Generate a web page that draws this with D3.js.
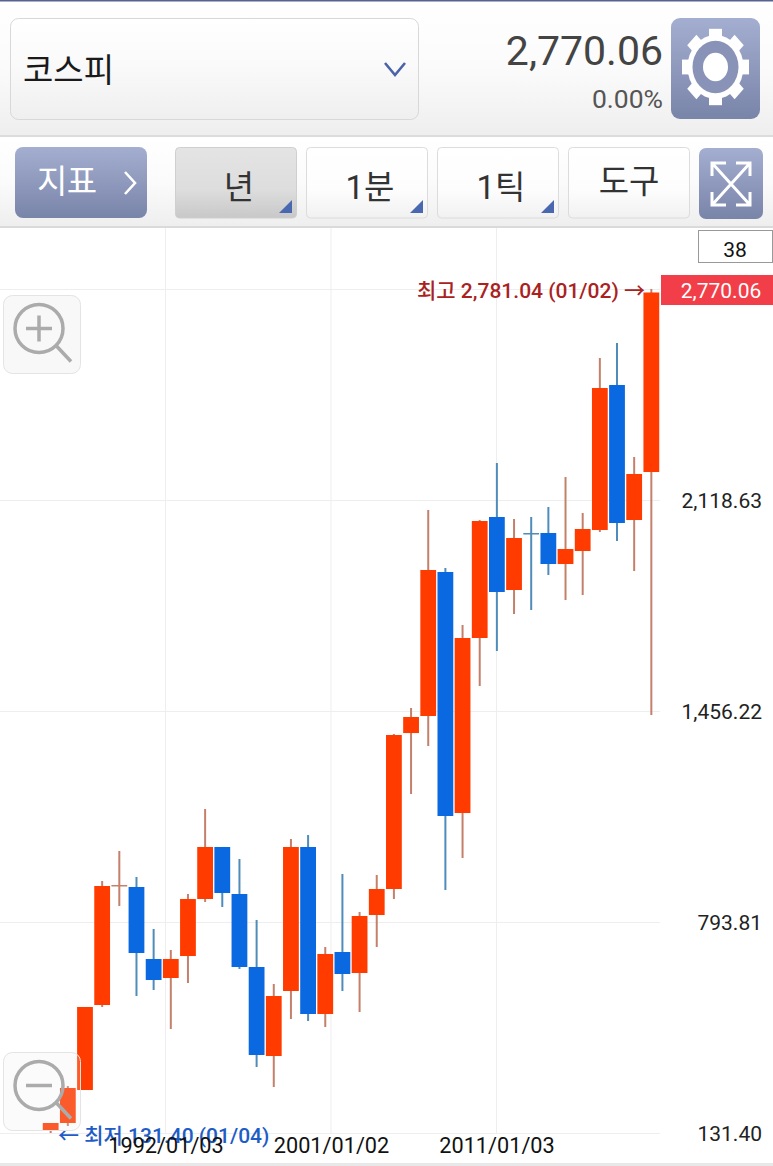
<!DOCTYPE html>
<html lang="ko"><head><meta charset="utf-8">
<script src="https://cdn.jsdelivr.net/npm/d3@7/dist/d3.min.js"></script>
<style>
html,body{margin:0;padding:0;background:#fff;overflow:hidden}
svg{display:block}
text{font-family:Roboto,"Noto Sans CJK KR",sans-serif}
</style></head><body>
<svg id="c" width="773" height="1166"></svg>
<script>
const years=[1985,1986,1987,1988,1989,1990,1991,1992,1993,1994,1995,1996,1997,1998,1999,2000,2001,2002,2003,2004,2005,2006,2007,2008,2009,2010,2011,2012,2013,2014,2015,2016,2017,2018,2019,2020];
const opens =[137.7,162.8,266.4,533.2,910,903.7,677.7,618,687,866,1029.3,881.7,652.5,373.1,577.2,1029.3,505,699.6,633.7,815.8,897.4,1387,1440.5,1892.6,1136,1685.4,2065.3,1836.1,2015,2015,1917.7,1958.5,2024.5,2479.7,2055.8,2206.5];
const highs =[162.8,279,527,922.5,1016.7,935.1,771.8,705.9,881.7,1148.6,1029.3,991.6,800.1,599.2,1054.4,1066.9,715.3,944.5,825.2,941.4,1384,1465.6,2087.3,1905.2,1726.2,2055.8,2234.8,2059,2065.3,2096.7,2190.9,2077.8,2564.4,2611.5,2253.6,2781.04];
const lows  =[131.4,153.4,266.4,527,844,561.5,580.3,457.9,602.3,856.6,840.9,646.3,338.6,275.8,489.3,483,464.2,577.2,511.3,715.3,866,1195.6,1346.3,894.3,994.7,1534.7,1644.6,1760.7,1773.3,1883.2,1804.7,1820.4,2018.2,1990,1895.7,1443.7];
const closes=[162.8,272.7,527,906.8,910,696.5,611.7,677.7,866,1029.3,884.9,652.5,376.3,561.5,1029.3,505,693.4,630.6,812.7,897.4,1380.9,1437.4,1898.9,1126.6,1685.4,2052.7,1829.8,1999.3,2015,1917.7,1964.8,2027.6,2470.2,2046.4,2200.3,2770.06];
const downYears=[1990,1991,1995,1996,1997,2000,2002,2008,2011,2013,2014,2018];
const yTicks=[131.40,793.81,1456.22,2118.63,2781.04];
const xTickLabels=["1992/01/03","2001/01/02","2011/01/03"];
const lastPrice=2770.06, changePct="0.00%", barCount="38";
const hiLabel="최고 2,781.04 (01/02) →", loLabel="← 최저 131.40 (01/04)";
const tabs=["년","1분","1틱","도구"];

const svg=d3.select("#c");
const defs=svg.append("defs");
function grad(id,stops){const g=defs.append("linearGradient").attr("id",id).attr("x1",0).attr("x2",0).attr("y1",0).attr("y2",1);
  stops.forEach(([o,c])=>g.append("stop").attr("offset",o).attr("stop-color",c));}
grad("hdr",[[0,"#ffffff"],[.5,"#fbfbfb"],[1,"#eeeeee"]]);
grad("box",[[0,"#ffffff"],[.45,"#fafafa"],[1,"#efefef"]]);
grad("slate",[[0,"#a3aed0"],[1,"#7984a9"]]);
grad("sel",[[0,"#e4e4e4"],[.6,"#dddddd"],[1,"#c8c8c8"]]);
grad("tab",[[0,"#ffffff"],[.6,"#fdfdfd"],[1,"#f1f1f1"]]);
const font='Roboto,"Noto Sans CJK KR",sans-serif';

// header
svg.append("rect").attr("width",773).attr("height",136).attr("fill","url(#hdr)");
svg.append("rect").attr("width",773).attr("height",1.5).attr("fill","#56638f");
svg.append("rect").attr("y",135).attr("width",773).attr("height",2).attr("fill","#dcdcdc");
svg.append("rect").attr("y",137).attr("width",773).attr("height",90).attr("fill","url(#hdr)");
svg.append("rect").attr("y",226).attr("width",773).attr("height",2).attr("fill","#dadada");
svg.append("rect").attr("y",1163).attr("width",773).attr("height",3).attr("fill","#e8e8e8");

svg.append("rect").attr("x",10.5).attr("y",18.5).attr("width",408).attr("height",101).attr("rx",8).attr("fill","url(#box)").attr("stroke","#d8d8d8");
svg.append("text").attr("x",23).attr("y",82).attr("font-size",33).attr("textLength",91).attr("lengthAdjust","spacingAndGlyphs").attr("fill","#1a1a1a").attr("font-family",'"Noto Sans CJK KR"').text("코스피");
svg.append("path").attr("d","M385 63L395 75L405 63").attr("fill","none").attr("stroke","#4a62a8").attr("stroke-width",2.6);
svg.append("text").attr("x",663).attr("y",65).attr("text-anchor","end").attr("font-size",41).attr("fill","#444").text(d3.format(",.2f")(lastPrice));
svg.append("text").attr("x",663).attr("y",108).attr("text-anchor","end").attr("font-size",26.5).attr("fill","#555").text(changePct);

// gear
svg.append("rect").attr("x",671).attr("y",18).attr("width",89).attr("height",101).attr("rx",9).attr("fill","url(#slate)");
const gear=svg.append("g").attr("transform","translate(715.5,67) scale(1,1.14)");
d3.range(8).forEach(i=>gear.append("rect").attr("x",-6.5).attr("y",-33.5).attr("width",13).attr("height",12).attr("fill","#fff").attr("transform",`rotate(${i*45})`));
gear.append("circle").attr("r",28).attr("fill","#fff");
gear.append("circle").attr("r",23).attr("fill","#8993b7");
gear.append("circle").attr("r",12.5).attr("fill","#fff");

// second row
svg.append("rect").attr("x",15).attr("y",147).attr("width",132).attr("height",71).attr("rx",8).attr("fill","url(#slate)");
svg.append("text").attr("x",37).attr("y",193).attr("font-size",33).attr("textLength",60).attr("fill","#fff").attr("font-family",'"Noto Sans CJK KR"').text("지표");
svg.append("path").attr("d","M125 172L135 183L125 194").attr("fill","none").attr("stroke","#fff").attr("stroke-width",2.6);
const tabX=d3.scalePoint().domain(tabs).range([175,568]);
tabs.forEach((t,i)=>{
  const x=tabX(t);
  svg.append("rect").attr("x",x+.5).attr("y",147.5).attr("width",121).attr("height",70.5).attr("rx",4)
    .attr("fill",i==0?"url(#sel)":"url(#tab)").attr("stroke",i==0?"#cfcfcf":"#dcdcdc");
  svg.append("text").attr("x",x+(i==3?61:64)).attr("y",i==3?193:199).attr("text-anchor","middle").attr("font-size",33)
    .attr("fill","#333").attr("font-family",'"Noto Sans CJK KR"').text(t);
  if(i<3) svg.append("path").attr("d",`M${x+117} ${200}L${x+117} ${213}L${x+104} ${213}Z`).attr("fill","#4a68b0");
});
svg.append("rect").attr("x",699).attr("y",148).attr("width",64).attr("height",71).attr("rx",7).attr("fill","url(#slate)");
svg.append("path").attr("d","M712 163L750 205M750 163L712 205M712 176V163H726M736 163H750V176M712 192V205H726M736 205H750V192")
  .attr("fill","none").attr("stroke","#fff").attr("stroke-width",3);

// scales
const x=d3.scaleBand().domain(years).range([41.4,660.6]).padding(0.08);
const y=d3.scaleLinear().domain([131.40,2781.04]).range([1133,289]);
const xTick=d3.scalePoint().domain(xTickLabels).range([165.5,496.5]);

// grid
svg.append("g").selectAll("line").data(yTicks).join("line").attr("x1",0).attr("x2",660)
  .attr("y1",d=>Math.round(y(d))+.5).attr("y2",d=>Math.round(y(d))+.5).attr("stroke","#eeeeee");
svg.append("g").selectAll("line").data(xTickLabels).join("line").attr("x1",d=>xTick(d)).attr("x2",d=>xTick(d))
  .attr("y1",228).attr("y2",1133).attr("stroke","#eeeeee");

// candles
const rows=years.map((yr,i)=>({yr,o:opens[i],h:highs[i],l:lows[i],c:closes[i],down:downYears.includes(yr)}));
const cx=d=>x(d.yr)+x.bandwidth()/2;
svg.append("g").selectAll("line").data(rows).join("line").attr("x1",cx).attr("x2",cx)
  .attr("y1",d=>y(d.h)).attr("y2",d=>y(d.l)).attr("stroke",d=>d.down?"#4f8cba":"#c4806a").attr("stroke-width",2);
svg.append("g").selectAll("rect").data(rows).join("rect")
  .attr("x",d=>x(d.yr)).attr("width",x.bandwidth())
  .attr("y",d=>y(Math.max(d.o,d.c))).attr("height",d=>Math.max(Math.abs(y(d.o)-y(d.c)),d.o==d.c?1.5:0))
  .attr("fill",d=>d.down?"#0a68e0":"#ff3b00")
  .each(function(d){ if(d.o==d.c) d3.select(this).attr("fill",d.down?"#4f8cba":"#c4806a"); });

// hi/lo
svg.append("text").attr("x",645).attr("y",298).attr("text-anchor","end").attr("font-size",21).attr("font-weight",500).attr("fill","#a9221f").text(hiLabel);
svg.append("text").attr("x",58).attr("y",1143).attr("font-size",21).attr("font-weight",500).attr("fill","#1e5cc6").text(loLabel);

// axes
const ya=svg.append("g").attr("transform","translate(762,0)").call(d3.axisLeft(y).tickValues(yTicks.slice(0,4)).tickFormat(d3.format(",.2f")).tickSize(0).tickPadding(0));
ya.select(".domain").remove();
ya.selectAll("text").attr("font-size",21).attr("font-family",font).attr("fill","#222").attr("dy","0.34em");
const xa=svg.append("g").attr("transform","translate(0,1133)").call(d3.axisBottom(xTick).tickSize(0).tickPadding(0));
xa.select(".domain").remove();
xa.selectAll("text").attr("font-size",21.7).attr("font-family",font).attr("fill","#111").attr("dy","0.75em").attr("y",4);

// count + price tag
svg.append("rect").attr("x",698.5).attr("y",230.5).attr("width",74).attr("height",32).attr("fill","#fff").attr("stroke","#999");
svg.append("text").attr("x",735).attr("y",257).attr("text-anchor","middle").attr("font-size",21).attr("fill","#111").text(barCount);
svg.append("rect").attr("x",661).attr("y",275).attr("width",112).attr("height",30).attr("fill","#f23e48");
svg.append("text").attr("x",721).attr("y",298).attr("text-anchor","middle").attr("font-size",21).attr("fill","#fff").text(d3.format(",.2f")(lastPrice));

// zoom buttons
function mag(by,plus){
  svg.append("rect").attr("x",3.5).attr("y",by).attr("width",77).attr("height",78).attr("rx",9)
    .attr("fill",plus?"#f8f8f8":"rgba(235,235,235,.18)").attr("stroke","#e4e4e4");
  const cy=by+33;
  svg.append("circle").attr("cx",39).attr("cy",cy).attr("r",24).attr("fill","none").attr("stroke","#ababab").attr("stroke-width",3.5);
  svg.append("path").attr("d",`M56 ${cy+17}L71 ${cy+33}`).attr("stroke","#ababab").attr("stroke-width",3.5).attr("fill","none");
  svg.append("path").attr("d",plus?`M26 ${cy}H52M39 ${cy-13}V${cy+13}`:`M26 ${cy}H52`).attr("stroke","#ababab").attr("stroke-width",3.5).attr("fill","none");
}
mag(295.5,true);
mag(1052.5,false);
</script></body></html>
